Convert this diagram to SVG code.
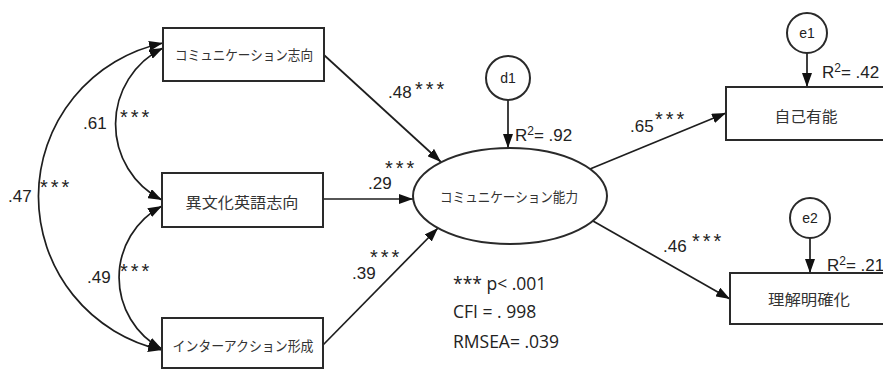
<svg xmlns="http://www.w3.org/2000/svg" width="883" height="370" viewBox="0 0 883 370">
<style>
.box{fill:#fff;stroke:#2a2a2a;stroke-width:2}
.ell{fill:#fff;stroke:#2a2a2a;stroke-width:2}
.ln{fill:none;stroke:#1e1e1e;stroke-width:1.7}
.jp{font-family:"Noto Sans CJK JP","Noto Sans CJK SC",sans-serif;fill:#333;text-anchor:middle;dominant-baseline:central}
.num{font-family:"Liberation Sans",Arial,sans-serif;font-size:17px;fill:#222}
.ast{font-family:"Liberation Sans",Arial,sans-serif;font-size:20px;fill:#222;letter-spacing:3px}
.lat{font-family:"Liberation Sans",Arial,sans-serif;font-size:14px;fill:#222;text-anchor:middle;dominant-baseline:central}
.st{font-family:"Open Sans",sans-serif;font-size:17.5px;fill:#222}
</style>
<defs>
<marker id="ah" viewBox="0 0 14 10" refX="14" refY="5" markerWidth="14" markerHeight="10" markerUnits="userSpaceOnUse" orient="auto-start-reverse">
<path d="M0,0 L14,5 L0,10 Z" fill="#111"/>
</marker>
</defs>

<g id="connectors">
<path class="ln" d="M163,43 A157,157 0 0 0 162,350" marker-start="url(#ah)" marker-end="url(#ah)"/>
<path class="ln" d="M163,48 A85,85 0 0 0 162,200" marker-start="url(#ah)" marker-end="url(#ah)"/>
<path class="ln" d="M162,206 A81,81 0 0 0 162,349" marker-start="url(#ah)" marker-end="url(#ah)"/>
<line class="ln" x1="324" y1="55" x2="441" y2="162" marker-end="url(#ah)"/>
<line class="ln" x1="323" y1="199" x2="413" y2="199" marker-end="url(#ah)"/>
<line class="ln" x1="323" y1="345" x2="438" y2="228" marker-end="url(#ah)"/>
<line class="ln" x1="590" y1="169" x2="726" y2="113" marker-end="url(#ah)"/>
<line class="ln" x1="593" y1="221" x2="730" y2="299" marker-end="url(#ah)"/>
<line class="ln" x1="508" y1="100" x2="508" y2="148" marker-end="url(#ah)"/>
<line class="ln" x1="807" y1="53" x2="807" y2="87" marker-end="url(#ah)"/>
<line class="ln" x1="810" y1="238" x2="810" y2="273" marker-end="url(#ah)"/>
</g>

<g id="n-komi">
<rect class="box" x="163" y="28" width="161" height="53"/>
<text class="jp" x="244" y="54" font-size="14" textLength="138" lengthAdjust="spacingAndGlyphs">コミュニケーション志向</text>
</g>
<g id="n-ibunka">
<rect class="box" x="162" y="173" width="161" height="54"/>
<text class="jp" x="242" y="201" font-size="15" textLength="113" lengthAdjust="spacingAndGlyphs">異文化英語志向</text>
</g>
<g id="n-inter">
<rect class="box" x="162" y="318" width="161" height="50"/>
<text class="jp" x="243" y="345" font-size="14" textLength="141" lengthAdjust="spacingAndGlyphs">インターアクション形成</text>
</g>
<g id="n-noryoku">
<ellipse class="ell" cx="510" cy="196" rx="97" ry="48"/>
<text class="jp" x="509" y="196" font-size="14" textLength="138" lengthAdjust="spacingAndGlyphs">コミュニケーション能力</text>
</g>
<g id="n-d1">
<circle class="ell" cx="508" cy="78" r="22"/>
<text class="lat" x="508" y="78">d1</text>
</g>
<g id="n-jiko">
<rect class="box" x="726" y="87" width="200" height="53"/>
<text class="jp" x="806" y="115" font-size="15" textLength="63" lengthAdjust="spacingAndGlyphs">自己有能</text>
</g>
<g id="n-e1">
<circle class="ell" cx="807" cy="33" r="20"/>
<text class="lat" x="807" y="33" font-size="13">e1</text>
</g>
<g id="n-rikai">
<rect class="box" x="730" y="273" width="200" height="51"/>
<text class="jp" x="809" y="298" font-size="15" textLength="82" lengthAdjust="spacingAndGlyphs">理解明確化</text>
</g>
<g id="n-e2">
<circle class="ell" cx="810" cy="218" r="20"/>
<text class="lat" x="810" y="218" font-size="13">e2</text>
</g>

<g id="labels">
<text class="num" x="8" y="202">.47</text>
<text class="ast" x="40" y="194">***</text>
<text class="num" x="83" y="129">.61</text>
<text class="ast" x="120" y="124">***</text>
<text class="num" x="87" y="283">.49</text>
<text class="ast" x="120" y="278">***</text>
<text class="num" x="388" y="98">.48</text>
<text class="ast" x="415" y="96">***</text>
<text class="num" x="368" y="189">.29</text>
<text class="ast" x="385" y="175">***</text>
<text class="num" x="352" y="279">.39</text>
<text class="ast" x="370" y="264">***</text>
<text class="num" x="630" y="132">.65</text>
<text class="ast" x="655" y="126">***</text>
<text class="num" x="663" y="252">.46</text>
<text class="ast" x="692" y="248">***</text>
<text class="num" x="515" y="141">R<tspan font-size="12" dy="-6">2</tspan><tspan dy="6">= .92</tspan></text>
<text class="num" x="822" y="78">R<tspan font-size="12" dy="-6">2</tspan><tspan dy="6">= .42</tspan></text>
<text class="num" x="827" y="271">R<tspan font-size="12" dy="-6">2</tspan><tspan dy="6">= .21</tspan></text>
<text class="st" x="453" y="290">*** p&lt; .001</text>
<text class="st" x="453" y="318">CFI = . 998</text>
<text class="st" x="453" y="348">RMSEA= .039</text>
</g>
</svg>
